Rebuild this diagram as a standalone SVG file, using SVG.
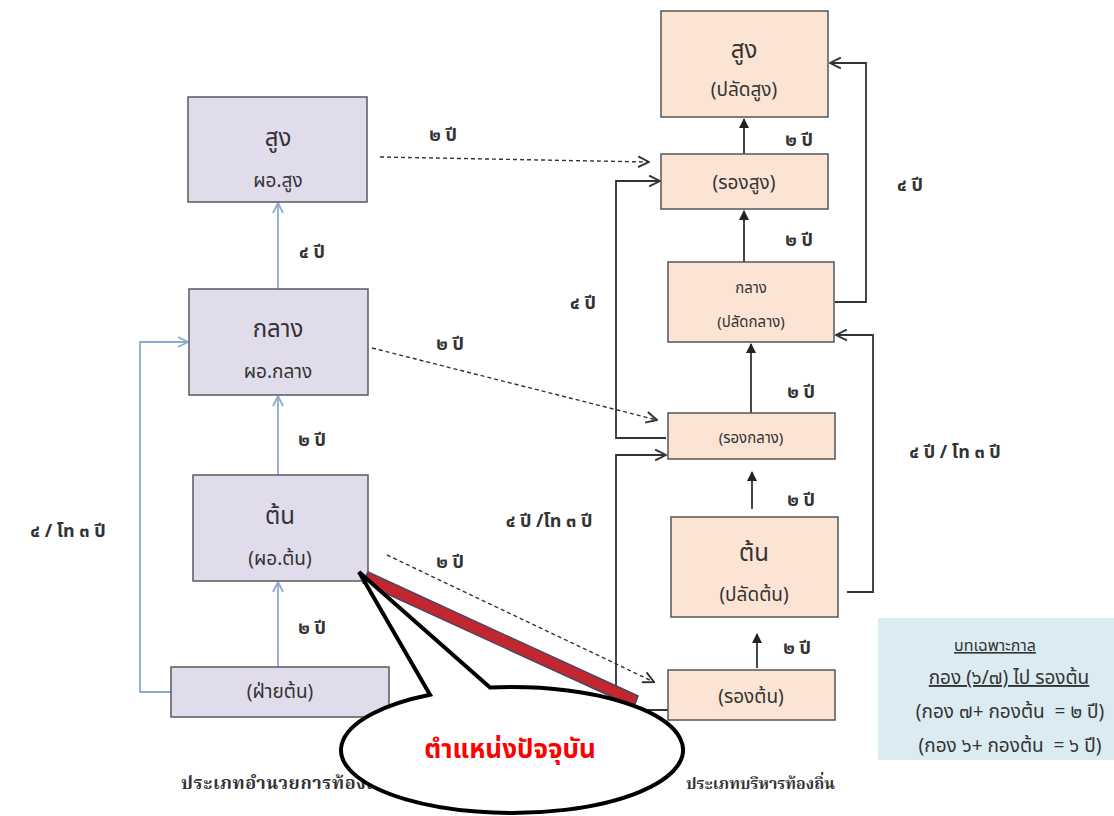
<svg xmlns="http://www.w3.org/2000/svg" width="1114" height="816" viewBox="0 0 1114 816">
<style>
text{font-family:"Noto Sans Thai","Noto Sans","DejaVu Sans",sans-serif;fill:#333;text-anchor:middle}
.lb{fill:#e1dcec;stroke:#5a5a5a;stroke-width:1.5}
.rb{fill:#fbe4d4;stroke:#555;stroke-width:1.5}
.big{font-size:24px}
.mid{font-size:19px}
.sm{font-size:15px}
.lab{font-size:18px;font-weight:bold}
.blue{fill:none;stroke:#8eaad0;stroke-width:1.8}
.blk{fill:none;stroke:#333;stroke-width:1.8}
.dash{fill:none;stroke:#333;stroke-width:1.4;stroke-dasharray:4 3}
.info{font-size:19px}
.cap{font-family:"Liberation Serif","Noto Serif Thai",serif;font-weight:bold;text-anchor:start}
</style>
<defs>
<marker id="chevB" viewBox="0 0 12 12" refX="11" refY="6" markerWidth="12" markerHeight="12" markerUnits="userSpaceOnUse" orient="auto"><path d="M1,1 L11,6 L1,11" fill="none" stroke="#8eaad0" stroke-width="1.8"/></marker>
<marker id="chevK" viewBox="0 0 12 12" refX="11" refY="6" markerWidth="13" markerHeight="13" markerUnits="userSpaceOnUse" orient="auto"><path d="M1,1 L11,6 L1,11" fill="none" stroke="#333" stroke-width="1.8"/></marker>
<marker id="tri" viewBox="0 0 10 10" refX="9" refY="5" markerWidth="10" markerHeight="10" markerUnits="userSpaceOnUse" orient="auto"><path d="M0,0 L10,5 L0,10 Z" fill="#222"/></marker>
</defs>
<rect width="1114" height="816" fill="#fff"/>

<g id="connectors">
  <line class="blue" x1="278" y1="289" x2="278" y2="203" marker-end="url(#chevB)"/>
  <line class="blue" x1="278" y1="475" x2="278" y2="396" marker-end="url(#chevB)"/>
  <line class="blue" x1="278" y1="667" x2="278" y2="582" marker-end="url(#chevB)"/>
  <polyline class="blue" points="171,692 140,692 140,342 188,342" marker-end="url(#chevB)"/>
  <line class="dash" x1="380" y1="157" x2="649" y2="162" marker-end="url(#chevK)"/>
  <line class="dash" x1="372" y1="348" x2="657" y2="420" marker-end="url(#chevK)"/>
  <line class="dash" x1="387" y1="555" x2="654" y2="682" marker-end="url(#chevK)"/>
  <line class="blk" x1="744" y1="154" x2="744" y2="119" marker-end="url(#tri)"/>
  <line class="blk" x1="744" y1="262" x2="744" y2="211" marker-end="url(#tri)"/>
  <line class="blk" x1="751" y1="413" x2="751" y2="344" marker-end="url(#tri)"/>
  <line class="blk" x1="752" y1="509" x2="752" y2="472" marker-end="url(#tri)"/>
  <line class="blk" x1="757" y1="668" x2="757" y2="634" marker-end="url(#tri)"/>
  <polyline class="blk" points="835,302 866,302 866,63 830,63" marker-end="url(#chevK)"/>
  <polyline class="blk" points="847,592 873,592 873,335 836,335" marker-end="url(#chevK)"/>
  <polyline class="blk" points="666,438 616,438 616,181 660,181" marker-end="url(#chevK)"/>
  <polyline class="blk" points="668,710 616,710 616,455 666,455" marker-end="url(#chevK)"/>
</g>

<g id="labels">
  <text class="lab" x="312" y="258">๔ ปี</text>
  <text class="lab" x="312" y="446">๒ ปี</text>
  <text class="lab" x="312" y="634">๒ ปี</text>
  <text class="lab" x="68" y="537">๔ / โท ๓ ปี</text>
  <text class="lab" x="443" y="141">๒ ปี</text>
  <text class="lab" x="450" y="350">๒ ปี</text>
  <text class="lab" x="450" y="568">๒ ปี</text>
  <text class="lab" x="583" y="309">๔ ปี</text>
  <text class="lab" x="549" y="527">๔ ปี /โท ๓ ปี</text>
  <text class="lab" x="799" y="146">๒ ปี</text>
  <text class="lab" x="799" y="246">๒ ปี</text>
  <text class="lab" x="801" y="398">๒ ปี</text>
  <text class="lab" x="801" y="506">๒ ปี</text>
  <text class="lab" x="797" y="654">๒ ปี</text>
  <text class="lab" x="910" y="191">๔ ปี</text>
  <text class="lab" x="955" y="458">๔ ปี / โท ๓ ปี</text>
</g>

<g id="node-l-sung">
  <rect class="lb" x="188" y="97" width="179" height="105"/>
  <text class="big" x="278" y="146">สูง</text>
  <text class="mid" x="278" y="187">ผอ.สูง</text>
</g>
<g id="node-l-klang">
  <rect class="lb" x="189" y="289" width="179" height="106"/>
  <text class="big" x="278" y="337">กลาง</text>
  <text class="mid" x="278" y="378">ผอ.กลาง</text>
</g>
<g id="node-l-ton">
  <rect class="lb" x="193" y="475" width="175" height="106"/>
  <text class="big" x="280" y="524">ต้น</text>
  <text class="mid" x="280" y="565">(ผอ.ต้น)</text>
</g>
<g id="node-l-fai">
  <rect class="lb" x="171" y="667" width="218" height="50"/>
  <text class="mid" x="280" y="698">(ฝ่ายต้น)</text>
</g>

<g id="node-r-sung">
  <rect class="rb" x="661" y="11" width="167" height="106"/>
  <text class="big" x="744" y="58">สูง</text>
  <text class="mid" x="744" y="96">(ปลัดสูง)</text>
</g>
<g id="node-r-rongsung">
  <rect class="rb" x="661" y="154" width="167" height="55"/>
  <text class="mid" x="744" y="189">(รองสูง)</text>
</g>
<g id="node-r-klang">
  <rect class="rb" x="668" y="262" width="166" height="80"/>
  <text class="sm" x="751" y="293">กลาง</text>
  <text class="sm" x="751" y="327">(ปลัดกลาง)</text>
</g>
<g id="node-r-rongklang">
  <rect class="rb" x="668" y="413" width="167" height="46"/>
  <text class="sm" x="751" y="443">(รองกลาง)</text>
</g>
<g id="node-r-ton">
  <rect class="rb" x="671" y="517" width="167" height="100"/>
  <text class="big" x="754" y="561">ต้น</text>
  <text class="mid" x="754" y="601">(ปลัดต้น)</text>
</g>
<g id="node-r-rongton">
  <rect class="rb" x="668" y="670" width="167" height="50"/>
  <text class="mid" x="751" y="703">(รองต้น)</text>
</g>

<g id="info-box">
  <rect x="878" y="618" width="236" height="142" fill="#dbebf2"/>
  <text x="995" y="651" style="font-size:16px" text-decoration="underline">บทเฉพาะกาล</text>
  <text class="info" x="1009" y="684" text-decoration="underline">กอง (๖/๗) ไป รองต้น</text>
  <text class="info" x="1010" y="718" xml:space="preserve">(กอง ๗+ กองต้น  = ๒ ปี)</text>
  <text class="info" x="1010" y="752" xml:space="preserve">(กอง ๖+ กองต้น  = ๖ ปี)</text>
</g>

<g id="captions">
  <text class="cap" x="181" y="789" style="font-size:18px;letter-spacing:0.6px">ประเภทอำนวยการท้องถิ่น</text>
  <text class="cap" x="686" y="789" style="font-size:16px">ประเภทบริหารท้องถิ่น</text>
</g>

<g id="current-marker">
  <polygon points="368,572 638,696 634,707 363,583" fill="#c1272d" stroke="#4c4466" stroke-width="1.5"/>
</g>

<g id="callout">
  <path d="M430,694.7 L359,572 L490,687.5 A171 63 0 1 1 430,694.7 Z" fill="#fff" stroke="#000" stroke-width="4" stroke-linejoin="miter"/>
  <text x="510" y="758" style="font-size:26px;font-weight:bold;fill:#ff0000">ตำแหน่งปัจจุบัน</text>
</g>
</svg>
